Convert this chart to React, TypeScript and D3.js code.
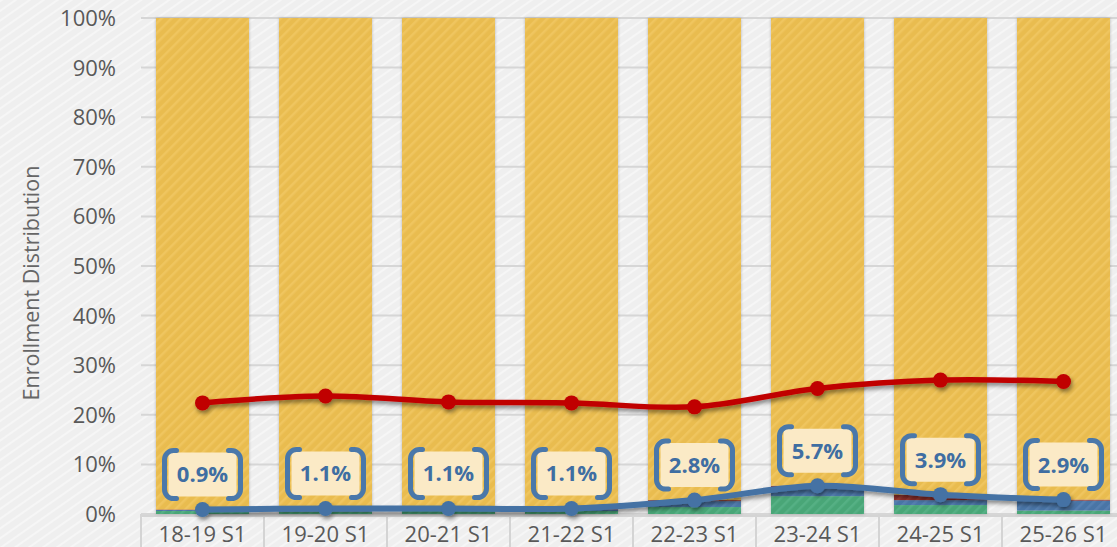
import React from 'react';
import * as d3 from 'd3';

const categories = ['18-19 S1', '19-20 S1', '20-21 S1', '21-22 S1', '22-23 S1', '23-24 S1', '24-25 S1', '25-26 S1'];
const greenShare = [0.6, 0.5, 0.6, 0.6, 1.4, 3.6, 1.8, 0.7];
const blueShare = [0.2, 0.4, 0.3, 0.3, 1.2, 1.6, 1.0, 2.0];
const redShare = [0.1, 0.2, 0.2, 0.2, 0.2, 0.5, 1.1, 0.2];
const blueLine = [0.9, 1.1, 1.1, 1.1, 2.8, 5.7, 3.9, 2.9];
const redLine = [22.4, 23.8, 22.6, 22.4, 21.6, 25.3, 27.0, 26.7];
const yTicks = [0, 10, 20, 30, 40, 50, 60, 70, 80, 90, 100];

const W = 1117;
const H = 547;
const FONT = "'Open Sans', 'Noto Sans', sans-serif";

export default function App() {
  const x = d3.scaleBand<string>().domain(categories).range([141, 1125]).paddingInner(0.244).paddingOuter(0.122);
  const y = d3.scaleLinear().domain([0, 100]).range([514, 18]);

  const rows = categories.map((c, i) => ({
    cat: c,
    green: greenShare[i],
    blue: blueShare[i],
    red: redShare[i],
    yellow: 100 - greenShare[i] - blueShare[i] - redShare[i],
  }));
  const keys = ['green', 'blue', 'red', 'yellow'];
  const fills: Record<string, string> = {
    green: 'url(#pGreen)',
    blue: 'url(#pBlue)',
    red: 'url(#pRed)',
    yellow: 'url(#pYellow)',
  };
  const stacked = d3.stack<any>().keys(keys)(rows as any);

  const cx = (c: string) => (x(c) as number) + x.bandwidth() / 2;
  const line = d3
    .line<number>()
    .x((_, i) => cx(categories[i]))
    .y((v) => y(v))
    .curve(d3.curveCardinal.tension(0));

  const step = x.step();
  const bw = 76;
  const bh = 48;
  const r = 9;

  return (
    <svg width={W} height={H} style={{ position: 'absolute', left: 0, top: 0 }} xmlns="http://www.w3.org/2000/svg">
      <defs>
        <pattern id="bgTex" width="8" height="8" patternUnits="userSpaceOnUse" patternTransform="rotate(-35)">
          <rect width="8" height="8" fill="#efefef" />
          <rect width="8" height="2" fill="#f6f6f6" />
        </pattern>
        <pattern id="pYellow" width="7" height="7" patternUnits="userSpaceOnUse" patternTransform="rotate(-45)">
          <rect width="7" height="7" fill="#e9bc4f" />
          <rect width="7" height="2.5" fill="#efc55e" />
        </pattern>
        <pattern id="pGreen" width="7" height="7" patternUnits="userSpaceOnUse" patternTransform="rotate(-45)">
          <rect width="7" height="7" fill="#48a677" />
          <rect width="7" height="2.5" fill="#55b084" />
        </pattern>
        <pattern id="pBlue" width="7" height="7" patternUnits="userSpaceOnUse" patternTransform="rotate(-45)">
          <rect width="7" height="7" fill="#4a74a6" />
          <rect width="7" height="2.5" fill="#557fb0" />
        </pattern>
        <pattern id="pRed" width="7" height="7" patternUnits="userSpaceOnUse" patternTransform="rotate(-45)">
          <rect width="7" height="7" fill="#8e2f2a" />
          <rect width="7" height="2.5" fill="#9a3a33" />
        </pattern>
        <filter id="barShadow" x="-10%" y="-10%" width="120%" height="120%">
          <feDropShadow dx="0" dy="0" stdDeviation="1.5" floodColor="#000" floodOpacity="0.25" />
        </filter>
        <filter id="lineShadow" x="-10%" y="-50%" width="120%" height="200%">
          <feDropShadow dx="1.5" dy="3" stdDeviation="2" floodColor="#000" floodOpacity="0.45" />
        </filter>
      </defs>

      <rect width={W} height={H} fill="url(#bgTex)" />

      {/* gridlines */}
      {yTicks.map((t) => (
        <line key={t} x1={141} x2={W} y1={y(t)} y2={y(t)} stroke="#d6d6d6" strokeWidth={2} />
      ))}

      {/* axis separators below baseline */}
      <line x1={141} x2={W} y1={y(0) + 2} y2={y(0) + 2} stroke="#d4d4d4" strokeWidth={2} />
      {d3.range(categories.length + 1).map((i) => (
        <line key={i} x1={141 + i * step} x2={141 + i * step} y1={y(0)} y2={H} stroke="#d4d4d4" strokeWidth={2} />
      ))}

      {/* y tick labels */}
      {yTicks.map((t) => (
        <text key={t} x={116} y={y(t)} dy="0.36em" textAnchor="end" fontFamily={FONT} fontSize={22} fill="#595959">
          {t}%
        </text>
      ))}

      {/* y axis title */}
      <text
        transform={`translate(31, 283) rotate(-90)`}
        textAnchor="middle"
        dy="0.35em"
        fontFamily={FONT}
        fontSize={21.5}
        fill="#666666"
      >
        Enrollment Distribution
      </text>

      {/* bars */}
      <g filter="url(#barShadow)">
        {stacked.map((s) => (
          <g key={s.key}>
            {s.map((d, i) => (
              <rect
                key={i}
                x={x(categories[i])}
                width={x.bandwidth()}
                y={y(d[1])}
                height={y(d[0]) - y(d[1])}
                fill={fills[s.key]}
              />
            ))}
          </g>
        ))}
      </g>

      {/* x labels */}
      {categories.map((c) => (
        <text key={c} x={cx(c)} y={534} dy="0.36em" textAnchor="middle" fontFamily={FONT} fontSize={22} fill="#595959">
          {c}
        </text>
      ))}

      {/* red line */}
      <g filter="url(#lineShadow)">
        <path d={line(redLine) || ''} fill="none" stroke="#c00000" strokeWidth={5.5} />
        {redLine.map((v, i) => (
          <circle key={i} cx={cx(categories[i])} cy={y(v)} r={7.5} fill="#c00000" />
        ))}
      </g>

      {/* blue line */}
      <g filter="url(#lineShadow)">
        <path d={line(blueLine) || ''} fill="none" stroke="#4472a4" strokeWidth={6} />
        {blueLine.map((v, i) => (
          <circle key={i} cx={cx(categories[i])} cy={y(v)} r={7.5} fill="#4472a4" />
        ))}
      </g>

      {/* labels */}
      {blueLine.map((v, i) => {
        const lx = cx(categories[i]);
        const ly = y(v) - 35;
        const x0 = lx - bw / 2;
        const x1 = lx + bw / 2;
        const y0 = ly - bh / 2;
        const y1 = ly + bh / 2;
        const left = `M${x0 + r + 3},${y0} L${x0 + r},${y0} A${r},${r} 0 0 0 ${x0},${y0 + r} L${x0},${y1 - r} A${r},${r} 0 0 0 ${x0 + r},${y1} L${x0 + r + 3},${y1}`;
        const right = `M${x1 - r - 3},${y0} L${x1 - r},${y0} A${r},${r} 0 0 1 ${x1},${y0 + r} L${x1},${y1 - r} A${r},${r} 0 0 1 ${x1 - r},${y1} L${x1 - r - 3},${y1}`;
        return (
          <g key={i}>
            <rect x={x0 + 4} y={y0 + 2} width={bw - 8} height={bh - 4} rx={4} fill="#fbeac6" />
            <path d={left} fill="none" stroke="#4a78aa" strokeWidth={5} strokeLinecap="round" />
            <path d={right} fill="none" stroke="#4a78aa" strokeWidth={5} strokeLinecap="round" />
            <text x={lx} y={ly} dy="0.36em" textAnchor="middle" fontFamily={FONT} fontWeight={700} fontSize={22} fill="#3f6ea2">
              {v.toFixed(1)}%
            </text>
          </g>
        );
      })}
    </svg>
  );
}
